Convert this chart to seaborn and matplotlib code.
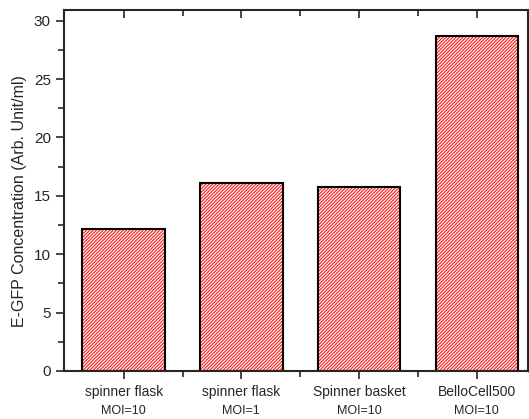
import matplotlib
matplotlib.use("Agg")
import matplotlib.pyplot as plt
import seaborn as sns
import pandas as pd
from matplotlib.ticker import MultipleLocator, FixedLocator
import matplotlib.transforms as mtransforms

categories = ["spinner flask", "spinner flask", "Spinner basket", "BelloCell500"]
moi_labels = ["MOI=10", "MOI=1", "MOI=10", "MOI=10"]
values = [12.15, 16.1, 15.8, 28.7]
keys = ["A", "B", "C", "D"]

sns.set_style("ticks")
plt.rcParams['font.family'] = ['Liberation Sans', 'DejaVu Sans']
plt.rcParams['hatch.linewidth'] = 0.85
plt.rcParams['hatch.color'] = '#ff2020'

df = pd.DataFrame({"key": keys, "value": values})

fig = plt.figure(figsize=(5.29, 4.19), dpi=100)
ax = fig.add_axes([0.121, 0.1146, 0.878, 0.8624])

sns.barplot(data=df, x="key", y="value", ax=ax, color="white", width=0.70,
            edgecolor="#ff2020", linewidth=0, saturation=1)
for p in ax.patches:
    p.set_hatch("/" * 10)
    p.set_facecolor("white")
    p.set_edgecolor("#ff2020")
    p.set_linewidth(0)
sns.barplot(data=df, x="key", y="value", ax=ax, fill=False, width=0.70,
            edgecolor="black", linewidth=1.5)

ax.set_xlim(-0.507, 3.44)
ax.set_ylim(0, 30.95)
ax.set_xlabel("")
ax.set_ylabel("E-GFP Concentration (Arb. Unit/ml)", fontsize=11.5)
ax.yaxis.set_label_coords(-0.080, 0.469)

ax.yaxis.set_major_locator(MultipleLocator(5))
ax.yaxis.set_minor_locator(MultipleLocator(2.5))
ax.xaxis.set_major_locator(FixedLocator([0, 1, 2, 3]))
ax.xaxis.set_minor_locator(FixedLocator([0.5, 1.5, 2.5]))
ax.set_xticklabels(categories, fontsize=10)

ax.tick_params(axis='y', which='both', direction='out', left=True, right=True,
               labelsize=11, width=1.2)
ax.tick_params(axis='x', which='both', direction='out', bottom=True, top=True,
               width=1.2, pad=4)
ax.tick_params(which='major', length=6)
ax.tick_params(which='minor', length=4)

# top and right ticks point inward
for t in ax.xaxis.get_major_ticks() + ax.xaxis.get_minor_ticks():
    t.tick2line.set_marker(3)  # TICKDOWN
for t in ax.yaxis.get_major_ticks() + ax.yaxis.get_minor_ticks():
    t.tick2line.set_marker(4)  # TICKLEFT

for s in ax.spines.values():
    s.set_linewidth(1.5)
    s.set_visible(True)

trans = mtransforms.blended_transform_factory(ax.transData, ax.transAxes)
for i, m in enumerate(moi_labels):
    ax.text(i, -0.11, m, transform=trans, ha="center", va="center", fontsize=9)

fig.savefig("out.png", dpi=100)
